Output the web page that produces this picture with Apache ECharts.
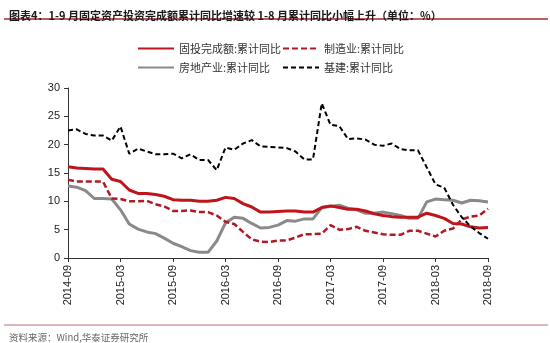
<!DOCTYPE html>
<html>
<head>
<meta charset="utf-8">
<script src="https://cdn.jsdelivr.net/npm/echarts@6/dist/echarts.min.js"></script>
<style>
  html, body { margin: 0; padding: 0; background: #fff; }
  #chart { width: 550px; height: 343px; }
</style>
</head>
<body>
<div id="chart"></div>
<script>
// Monthly categories, 2014-09 .. 2018-09
const months = [
  '2014-09','2014-10','2014-11','2014-12',
  '2015-01','2015-02','2015-03','2015-04','2015-05','2015-06','2015-07','2015-08','2015-09','2015-10','2015-11','2015-12',
  '2016-01','2016-02','2016-03','2016-04','2016-05','2016-06','2016-07','2016-08','2016-09','2016-10','2016-11','2016-12',
  '2017-01','2017-02','2017-03','2017-04','2017-05','2017-06','2017-07','2017-08','2017-09','2017-10','2017-11','2017-12',
  '2018-01','2018-02','2018-03','2018-04','2018-05','2018-06','2018-07','2018-08','2018-09'
];

// 固投完成额:累计同比 (%)
const fai = [
  16.1, 15.9, 15.8, 15.7,
  15.7, 13.9, 13.5, 12.0, 11.4, 11.4, 11.2, 10.9, 10.3, 10.2, 10.2, 10.0,
  10.0, 10.2, 10.7, 10.5, 9.6, 9.0, 8.1, 8.1, 8.2, 8.3, 8.3, 8.1,
  8.1, 8.9, 9.2, 8.9, 8.6, 8.6, 8.3, 7.8, 7.5, 7.3, 7.2, 7.2,
  7.2, 7.9, 7.5, 7.0, 6.1, 6.0, 5.5, 5.3, 5.4
];

// 制造业:累计同比 (%)
const manufacturing = [
  13.8, 13.5, 13.5, 13.5,
  13.5, 10.5, 10.4, 10.0, 10.0, 10.1, 9.5, 9.1, 8.3, 8.3, 8.4, 8.1,
  8.1, 7.5, 6.4, 6.0, 4.6, 3.3, 2.9, 2.8, 3.1, 3.1, 3.6, 4.2,
  4.2, 4.3, 5.8, 5.0, 5.1, 5.5, 4.8, 4.5, 4.2, 4.1, 4.1, 4.8,
  4.8, 4.3, 3.8, 4.8, 5.2, 6.8, 7.3, 7.5, 8.7
];

// 房地产业:累计同比 (%)
const realEstate = [
  12.7, 12.5, 11.9, 10.5,
  10.5, 10.4, 8.5, 6.0, 5.1, 4.6, 4.3, 3.5, 2.6, 2.0, 1.3, 1.0,
  1.0, 3.0, 6.2, 7.2, 7.0, 6.1, 5.3, 5.4, 5.8, 6.6, 6.5, 6.9,
  6.9, 8.9, 9.1, 9.3, 8.8, 8.5, 7.9, 7.9, 8.1, 7.8, 7.5, 7.0,
  7.0, 9.9, 10.4, 10.3, 10.2, 9.7, 10.2, 10.1, 9.9
];

// 基建:累计同比 (%)
const infrastructure = [
  22.5, 22.7, 21.9, 21.6,
  21.6, 20.7, 23.2, 18.4, 19.3, 18.8, 18.3, 18.3, 18.4, 17.6, 18.3, 17.3,
  17.3, 15.5, 19.5, 19.1, 20.2, 20.8, 19.7, 19.6, 19.5, 19.4, 18.8, 17.4,
  17.4, 27.3, 23.5, 23.3, 21.0, 21.1, 20.9, 20.0, 19.8, 20.2, 19.2, 19.0,
  19.0, 16.0, 13.0, 12.4, 9.4, 7.2, 5.6, 4.4, 3.4
];

const yTicks = { min: 0, max: 30, interval: 5 };

const latin = '"Liberation Sans", Arial, sans-serif';
const cjk = '"Noto Sans CJK SC", "Liberation Sans", sans-serif';

const chart = echarts.init(document.getElementById('chart'), null, { renderer: 'canvas' });

const everySixth = (idx) => idx % 6 === 0;

// legend keys show the line stroke only, no marker in the middle
const legendCommon = {
  orient: 'vertical', top: 38,
  itemWidth: 36, itemHeight: 12, itemGap: 8,
  itemStyle: { opacity: 0 },
  textStyle: { fontFamily: cjk, fontSize: 11, color: '#333' }
};

chart.setOption({
  animation: false,
  backgroundColor: '#ffffff',
  title: [
    {
      text: '图表4：1-9 月固定资产投资完成额累计同比增速较 1-8 月累计同比小幅上升（单位：%）',
      left: 4, top: 5,
      textStyle: { fontFamily: cjk, fontSize: 11, fontWeight: 'bold', color: '#1a1a1a' }
    },
    {
      text: '资料来源：Wind,华泰证券研究所',
      left: 4, top: 328,
      textStyle: { fontFamily: cjk, fontSize: 9.5, fontWeight: 'normal', color: '#666' }
    }
  ],
  graphic: [
    { type: 'line', shape: { x1: 4, y1: 19, x2: 548, y2: 19 }, style: { stroke: '#a52a2a', lineWidth: 1.5 } },
    { type: 'line', shape: { x1: 4, y1: 325, x2: 548, y2: 325 }, style: { stroke: '#c07070', lineWidth: 1 } }
  ],
  legend: [
    Object.assign({ left: 132, data: ['固投完成额:累计同比', '房地产业:累计同比'] }, legendCommon),
    Object.assign({ left: 277, data: ['制造业:累计同比', '基建:累计同比'] }, legendCommon)
  ],
  grid: { left: 68, right: 62, top: 88, bottom: 85, containLabel: false },
  xAxis: {
    type: 'category',
    data: months,
    boundaryGap: false,
    axisLine: { show: true, lineStyle: { color: '#333', width: 1 } },
    axisTick: { show: true, interval: (i) => everySixth(i), length: 4, lineStyle: { color: '#333' } },
    axisLabel: {
      interval: (i) => everySixth(i),
      rotate: 90, margin: 7,
      fontFamily: latin, fontSize: 11, color: '#222'
    },
    splitLine: { show: false }
  },
  yAxis: {
    type: 'value',
    min: yTicks.min, max: yTicks.max, interval: yTicks.interval,
    axisLine: { show: true, lineStyle: { color: '#333', width: 1 } },
    axisTick: { show: true, length: 4, lineStyle: { color: '#333' } },
    axisLabel: { fontFamily: latin, fontSize: 11, color: '#222', margin: 8 },
    splitLine: { show: false }
  },
  series: [
    {
      name: '固投完成额:累计同比', type: 'line', data: fai,
      symbol: 'none', z: 4,
      lineStyle: { color: '#c0141c', width: 3 },
      itemStyle: { color: '#c0141c' }
    },
    {
      name: '制造业:累计同比', type: 'line', data: manufacturing,
      symbol: 'none', z: 3,
      lineStyle: { color: '#b01a26', width: 2.5, type: [6, 3] },
      itemStyle: { color: '#b01a26' }
    },
    {
      name: '房地产业:累计同比', type: 'line', data: realEstate,
      symbol: 'none', z: 2,
      lineStyle: { color: '#8a8a8a', width: 3 },
      itemStyle: { color: '#8a8a8a' }
    },
    {
      name: '基建:累计同比', type: 'line', data: infrastructure,
      symbol: 'none', z: 5,
      lineStyle: { color: '#000000', width: 2, type: [5, 3] },
      itemStyle: { color: '#000000' }
    }
  ]
});
</script>
</body>
</html>
